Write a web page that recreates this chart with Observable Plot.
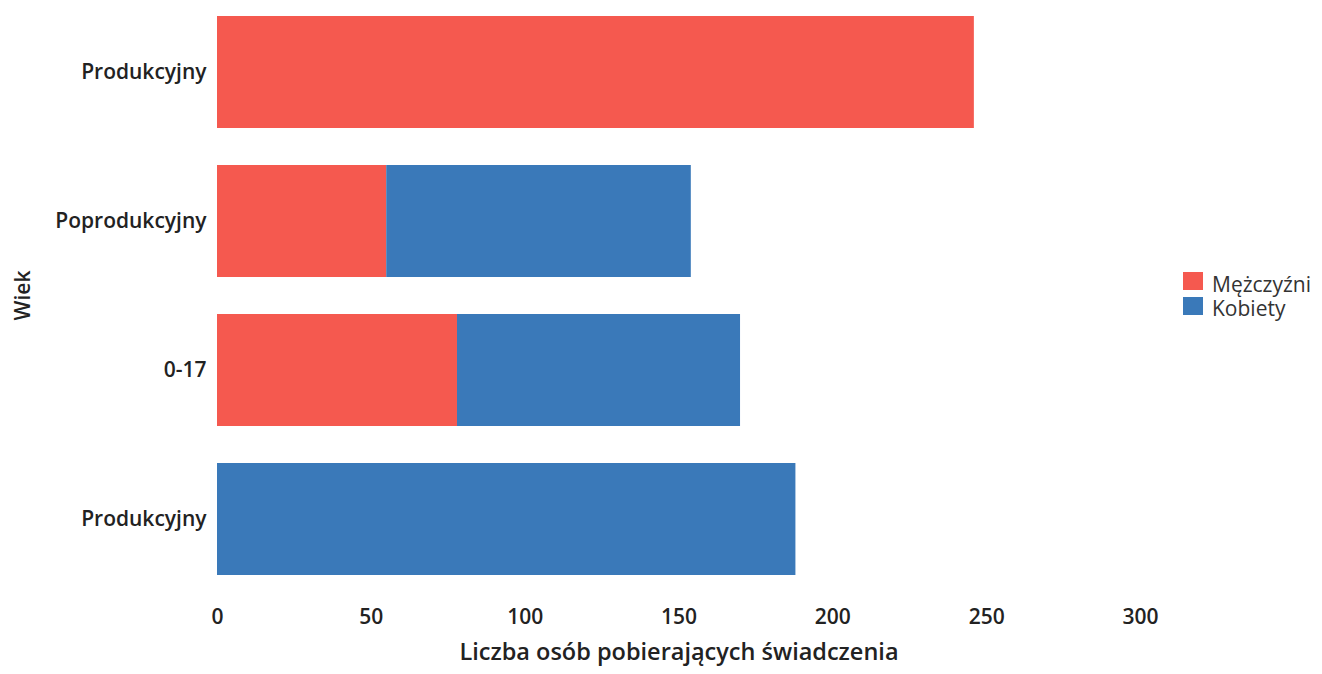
<!DOCTYPE html>
<html>
<head>
<meta charset="utf-8">
<script src="https://cdn.jsdelivr.net/npm/d3@7"></script>
<script src="https://cdn.jsdelivr.net/npm/@observablehq/plot@0.6"></script>
<style>
  html, body { margin: 0; padding: 0; background: #fff; }
  #wrap { position: relative; width: 1322px; height: 674px; font-family: "Open Sans", sans-serif; }
  #legend { position: absolute; left: 1183px; top: 271px; width: 139px; height: 52px; }
  .sw { position: absolute; left: 0; width: 20px; height: 18px; }
  .lt { position: absolute; left: 29px; font-size: 21px; line-height: 24px; color: #333; white-space: nowrap; }
</style>
</head>
<body>
<div id="wrap"><div id="chart"></div><div id="legend"></div></div>
<script>
// Data (top to bottom)
const ageGroups = ["Produkcyjny", "Poprodukcyjny", "0-17", "Produkcyjny"];
const series = ["Mężczyźni", "Kobiety"];
const men   = [246, 55, 78, 0];
const women = [0, 99, 92, 188];
const colors = ["#f5594f", "#3a79b9"];
const xTicks = [0, 50, 100, 150, 200, 250, 300];

const rows = [];
ageGroups.forEach((g, i) => rows.push({row: i, series: series[0], value: men[i]}));
ageGroups.forEach((g, i) => rows.push({row: i, series: series[1], value: women[i]}));

const chart = Plot.plot({
  width: 1322,
  height: 674,
  marginLeft: 217,
  marginRight: 182,
  marginTop: 14,
  marginBottom: 98,
  style: {fontFamily: "Open Sans, sans-serif", fontSize: "21px", fontWeight: 600, color: "#222", background: "#fff"},
  x: {domain: [0, 300], ticks: xTicks, label: "Liczba osób pobierających świadczenia"},
  y: {type: "band", domain: ageGroups.map((g, i) => i), paddingInner: 0.25, paddingOuter: 0, label: "Wiek"},
  color: {domain: series, range: colors},
  marks: [
    Plot.barX(rows, {x: "value", y: "row", fill: "series"}),
    Plot.axisX({ticks: xTicks, tickSize: 0, tickPadding: 33, label: null, fontSize: 21}),
    Plot.axisX({ticks: [], tickSize: 0, label: "Liczba osób pobierających świadczenia",
      labelAnchor: "center", labelOffset: 83, labelArrow: "none", fontSize: 23.5, dx: 7}),
    Plot.axisY({tickSize: 0, tickPadding: 11, tickFormat: i => ageGroups[i], label: "Wiek",
      labelAnchor: "center", labelOffset: 202, labelArrow: "none", fontSize: 21})
  ]
});
document.getElementById("chart").appendChild(chart);

const legend = document.getElementById("legend");
series.forEach((s, i) => {
  const sw = document.createElement("div");
  sw.className = "sw";
  sw.style.top = (i * 25 + 1) + "px";
  sw.style.background = colors[i];
  legend.appendChild(sw);
  const t = document.createElement("div");
  t.className = "lt";
  t.style.top = (i * 24 + 1) + "px";
  t.textContent = s;
  legend.appendChild(t);
});
</script>
</body>
</html>
